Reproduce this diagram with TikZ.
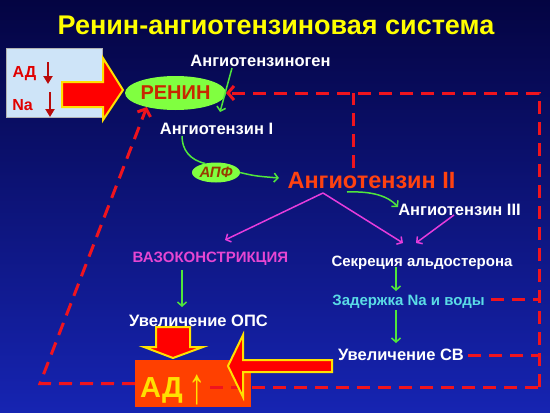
\documentclass[tikz,border=0pt]{standalone}
\usepackage{fontspec}
\usepackage{graphicx}
\setmainfont{Liberation Sans}
\usetikzlibrary{arrows.meta,shapes.geometric,calc}
\definecolor{bgtop}{RGB}{4,4,66}
\definecolor{bgbot}{RGB}{22,36,178}
\definecolor{boxblue}{RGB}{206,228,248}
\definecolor{rgreen}{RGB}{128,255,64}
\definecolor{renred}{RGB}{200,40,0}
\definecolor{apfbrown}{RGB}{150,60,0}
\definecolor{ang2col}{RGB}{255,66,16}
\definecolor{gline}{RGB}{80,230,60}
\definecolor{mline}{RGB}{230,60,220}
\definecolor{fbred}{RGB}{240,20,30}
\definecolor{vasocol}{RGB}{230,70,210}
\definecolor{zadcol}{RGB}{90,220,230}
\definecolor{adorange}{RGB}{255,64,0}
\definecolor{ayellow}{RGB}{255,225,0}
\definecolor{titleyellow}{RGB}{255,255,0}
\definecolor{smallred}{RGB}{225,0,0}
\definecolor{darkarrow}{RGB}{185,10,10}
\begin{document}
\begin{tikzpicture}[x=1pt,y=-1pt,
  txt/.style={inner sep=0pt, outer sep=1pt, anchor=base, text=white,
    font=\bfseries\fontsize{16.5}{18}\selectfont},
  txtsm/.style={txt, font=\bfseries\fontsize{15}{17}\selectfont},
  glyph/.style={inner sep=0pt, outer sep=0pt, anchor=center},
  downarr/.style={draw=darkarrow, line width=2.2pt, -{Triangle[length=8pt,width=9pt]}},
  garrow/.style={draw=gline, line width=1.5pt, -{Straight Barb[length=4pt,width=9pt]}},
  gline/.style={draw=gline, line width=1.5pt},
  marrow/.style={draw=mline, line width=1.5pt, -{Straight Barb[length=4pt,width=9pt]}},
  fb/.style={draw=fbred, line width=3pt, dash pattern=on 13pt off 8pt},
  fbarrow/.style={fb, -{Straight Barb[length=6pt,width=14pt]}},
  blockarr/.style={fill=red, draw=ayellow, line width=2pt, line join=miter},
]
\shade[top color=bgtop, bottom color=bgbot] (0,0) rectangle (550,413);
\useasboundingbox (0,0) rectangle (550,413);

% title
\node[txt, text=titleyellow, font=\bfseries\fontsize{27}{30}\selectfont] (title) at (276,34) {Ренин-ангиотензиновая система};

% left box
\node[draw=gray!60, fill=boxblue, minimum width=96pt, minimum height=69pt, inner sep=0pt, anchor=north west] (lbox) at (6,48) {};
\node[txt, text=smallred, font=\bfseries\fontsize{16}{18}\selectfont] (ad1) at (24.5,77) {АД};
\node[txt, text=smallred, font=\bfseries\fontsize{16}{18}\selectfont] (na) at (22.5,110) {Na};
\coordinate (d1s) at (48,62);
\coordinate (d1e) at (48,84);
\coordinate (d2s) at (50,92);
\coordinate (d2e) at (50,117);
\draw[downarr] (d1s) -- (d1e);
\draw[downarr] (d2s) -- (d2e);

% renin and APF ellipses
\node[ellipse, fill=rgreen, minimum width=101pt, minimum height=34pt, inner sep=0pt, outer sep=0pt,
  text=renred, font=\bfseries\fontsize{20}{22}\selectfont] (renin) at (175.5,93) {РЕНИН};
\node[ellipse, fill=rgreen, minimum width=48pt, minimum height=20pt, inner sep=0pt, outer sep=0pt,
  text=apfbrown, font=\bfseries\itshape\fontsize{15}{17}\selectfont] (apf) at (216,172.5) {АПФ};

% texts
\node[txt] (agen) at (260.5,66) {Ангиотензиноген};
\node[txt] (ang1) at (216.5,134) {Ангиотензин I};
\node[txt, text=ang2col, font=\bfseries\fontsize{23.5}{26}\selectfont] (ang2) at (371.5,188) {Ангиотензин II};
\node[txt] (ang3) at (459.5,215) {Ангиотензин III};
\node[txtsm, text=vasocol] (vaso) at (210.5,262) {ВАЗОКОНСТРИКЦИЯ};
\node[txtsm] (sekr) at (422,266) {Секреция альдостерона};
\node[txtsm, text=zadcol] (zad) at (408.5,305) {Задержка Na и воды};
\node[txt] (ops) at (198.5,326) {Увеличение ОПС};
\node[txt] (sv) at (401,360) {Увеличение СВ};

% feedback coordinates
\coordinate (tr) at (539,93);
\coordinate (br) at (539,387);
\coordinate (bl) at (40,383.5);
\coordinate (inT) at (353,93);
\coordinate (inB) at (353,168);
\coordinate (zadE) at (491,299);
\coordinate (zadR) at (539,299);
\coordinate (svE) at (468,355);
\coordinate (svR) at (539,355);
\coordinate (adIn) at (210,387);

% bottom A box
\node[fill=adorange, minimum width=116pt, minimum height=47pt, inner sep=0pt, anchor=north west] (adbox) at (135,360) {};

% dashed feedback lines
\draw[fbarrow] (br) -- (tr) -- (renin.east);
\draw[fb] (inB) -- (inT);
\draw[fb] (zadE) -- (zadR);
\draw[fb] (svE) -- (svR);
\draw[fb] (adIn) -- (br);
\draw[fbarrow] (adbox.west) -- (bl) -- (renin.206);

\node[txt, text=ayellow, font=\bfseries\fontsize{29}{32}\selectfont] (ad2) at (161.5,397) {АД};
\node[glyph, text=ayellow, font=\bfseries\fontsize{29}{32}\selectfont] (arr3) at (197,390) {\scalebox{1.2}[1.75]{↑}};

% block arrows
\draw[blockarr] (62,82) -- (103,82) -- (103,58) -- (123,90) -- (103,120) -- (103,107) -- (62,107) -- cycle;
\draw[blockarr] (156,327) -- (190,327) -- (190,347) -- (203,347) -- (173,358) -- (144,347) -- (156,347) -- cycle;
\draw[blockarr] (332,360) -- (243,360) -- (243,335) -- (228,366) -- (243,397) -- (243,372) -- (332,372) -- cycle;

% green arrows
\coordinate (agS) at (232,68);
\coordinate (agE) at (220,112);
\draw[garrow] (agS) -- (agE);
\coordinate (a1S) at (182,136);
\draw[gline] (a1S) .. controls (182,150) and (190,160) .. (apf.140);
\coordinate (a2T) at (279,178);
\draw[garrow] (apf.east) .. controls (255,176) .. (a2T);
\coordinate (a3S) at (347,192);
\coordinate (a3T) at (398,207);
\draw[garrow] (a3S) .. controls (372,191) and (388,196) .. (a3T);
\coordinate (vS) at (182,270);
\coordinate (vT) at (182,307);
\draw[garrow] (vS) -- (vT);
\coordinate (sS) at (396,267);
\coordinate (sT) at (396,291);
\draw[garrow] (sS) -- (sT);
\coordinate (zS) at (396,310);
\coordinate (zT) at (396,343);
\draw[garrow] (zS) -- (zT);

% magenta arrows
\coordinate (apex) at (323,193);
\coordinate (mL) at (225,240);
\coordinate (mR) at (403,243);
\coordinate (m3S) at (454,215);
\coordinate (m3T) at (416,243);
\draw[marrow] (apex) -- (mL);
\draw[marrow] (apex) -- (mR);
\draw[marrow] (m3S) -- (m3T);
\end{tikzpicture}
\end{document}
